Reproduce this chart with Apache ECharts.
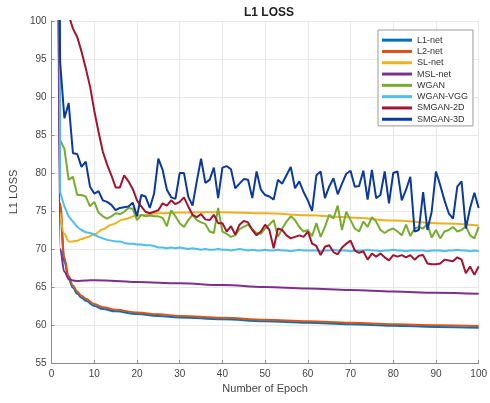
<!DOCTYPE html>
<html>
<head>
<meta charset="utf-8">
<script src="https://cdn.jsdelivr.net/npm/echarts@6/dist/echarts.min.js"></script>
<style>
  html, body { margin: 0; padding: 0; background: #fff; }
  #chart { width: 490px; height: 403px; }
</style>
</head>
<body>
<div id="chart"></div>
<script>
// L1 loss curves per epoch

var chart = echarts.init(document.getElementById('chart'), null, {renderer: 'canvas'});

var names = ['L1-net', 'L2-net', 'SL-net', 'MSL-net', 'WGAN', 'WGAN-VGG', 'SMGAN-2D', 'SMGAN-3D'];
var colors = ['#0072BD', '#D95319', '#EDB120', '#7E2F8E', '#77AC30', '#4DBEEE', '#A2142F', '#0B3A9C'];

// smooth curves, read at a few epochs
var baseEpochs = [1, 2, 3, 4, 5, 6, 7, 8, 10, 12, 15, 20, 25, 30, 40, 50, 60, 70, 80, 90, 100];
var l1Net  = [200, 75, 68.3, 66.0, 64.9, 64.1, 63.6, 63.2, 62.5, 62.1, 61.8, 61.45, 61.2, 61.0, 60.75, 60.5, 60.3, 60.1, 59.9, 59.75, 59.65];
var l2Net  = [200, 76, 68.8, 66.4, 65.2, 64.4, 63.85, 63.45, 62.75, 62.35, 62.0, 61.65, 61.4, 61.2, 60.95, 60.7, 60.5, 60.3, 60.1, 59.97, 59.87];
var mslEpochs = [1, 2, 3, 4, 5, 6, 8, 10, 15, 20, 30, 40, 50, 60, 70, 80, 90, 100];
var mslNet = [200, 70, 67.0, 66.1, 65.85, 65.8, 65.85, 65.9, 65.8, 65.65, 65.5, 65.25, 65.0, 64.8, 64.6, 64.4, 64.25, 64.1];
var slEpochs = [2, 3, 4, 5, 6, 7, 8, 10, 12, 14, 17, 20, 25, 30, 40, 50, 60, 70, 80, 90, 100];
var slNet  = [74.8, 72.0, 71.0, 71.0, 71.1, 71.3, 71.5, 71.9, 72.6, 73.2, 73.9, 74.4, 74.7, 74.8, 74.85, 74.7, 74.45, 74.15, 73.75, 73.4, 73.1];

// noisy curves, one value per epoch 1..100
var wgan = [
  300, 84.3, 83.2, 79.1, 79.5, 77.1, 77.1, 76.9, 75.6, 76.2,
  74.8, 74.3, 74.0, 74.3, 74.7, 74.6, 74.9, 75.4, 75.3, 73.8,
  74.5, 74.3, 74.4, 74.3, 74.3, 74.1, 73.0, 75.1, 74.3, 73.4,
  72.9, 73.8, 74.5, 73.8, 73.5, 73.3, 72.3, 72.1, 75.4, 72.3,
  72.0, 71.6, 71.8, 72.6, 72.9, 73.2, 72.6, 72.1, 72.0, 72.7,
  73.2, 73.8, 71.6, 72.7, 73.6, 74.3, 73.8, 72.9, 72.3, 72.5,
  71.7, 73.4, 71.6, 72.9, 74.5, 74.0, 75.7, 72.5, 74.9, 73.8,
  72.7, 72.3, 73.6, 72.9, 74.2, 73.6, 72.5, 72.1, 72.5, 72.7,
  72.3, 71.8, 73.2, 71.7, 72.7, 72.9, 72.7, 73.3, 71.5, 72.5,
  71.4, 72.3, 72.5, 72.9, 72.3, 72.5, 73.0, 71.8, 71.4, 72.9
];
var wganVgg = [
  300, 77.5, 75.6, 74.3, 73.6, 72.9, 72.5, 72.2, 72.1, 71.9,
  71.6, 71.4, 71.2, 71.1, 71.0, 71.0, 70.8, 70.7, 70.7, 70.6,
  70.6, 70.5, 70.5, 70.4, 70.2, 70.2, 70.1, 70.2, 70.1, 70.2,
  70.1, 70.0, 70.1, 70.0, 69.9, 70.0, 69.9, 69.9, 70.0, 69.9,
  69.9, 69.8, 69.9, 70.0, 69.9, 69.8, 69.9, 69.8, 69.8, 69.9,
  69.8, 69.8, 69.9, 69.8, 69.8, 69.7, 69.8, 69.9, 69.8, 69.8,
  69.8, 69.8, 69.7, 69.8, 69.8, 69.9, 69.8, 69.8, 69.8, 69.7,
  69.8, 69.8, 69.8, 69.9, 69.8, 69.8, 69.7, 69.8, 69.8, 69.9,
  69.8, 69.8, 69.7, 69.8, 69.8, 69.8, 69.8, 69.7, 69.8, 69.8,
  69.8, 69.7, 69.8, 69.8, 69.9, 69.8, 69.8, 69.7, 69.8, 69.7
];
var smgan2d = [
  200, 160, 120, 100.8, 99.0, 97.9, 96.0, 93.8, 91.4, 88.2,
  85.4, 82.8, 81.1, 79.7, 78.1, 78.1, 79.7, 78.9, 77.9, 76.4,
  75.6, 74.9, 74.7, 74.9, 75.1, 76.0, 75.7, 76.4, 75.9, 76.2,
  76.8, 75.6, 74.5, 74.2, 74.6, 73.9, 73.8, 74.5, 73.4, 73.4,
  72.3, 73.0, 71.9, 73.2, 73.7, 73.5, 72.5, 71.8, 72.3, 73.2,
  72.5, 70.1, 72.7, 72.5, 71.8, 71.4, 71.6, 71.8, 71.6, 72.3,
  70.7, 70.4, 69.2, 70.3, 70.5, 69.6, 69.3, 70.2, 70.7, 71.1,
  69.8, 69.5, 69.7, 68.6, 69.4, 69.0, 69.4, 68.9, 68.5, 69.2,
  69.0, 69.2, 68.9, 69.2, 68.6, 69.1, 69.2, 68.1, 68.0, 68.0,
  68.1, 68.6, 68.5, 68.4, 68.9, 68.6, 66.8, 67.7, 66.6, 67.7
];
var smgan3d = [
  160, 94.6, 87.2, 89.2, 82.6, 82.5, 80.8, 81.5, 78.2, 77.3,
  77.6, 76.4, 76.2, 75.8, 75.1, 75.4, 75.5, 75.6, 76.1, 74.3,
  77.1, 76.9, 75.4, 77.3, 81.9, 80.4, 77.8, 76.8, 76.6, 80.0,
  80.0, 76.9, 75.7, 78.9, 81.9, 78.7, 79.1, 80.7, 76.7, 80.7,
  80.9, 80.5, 78.0, 78.6, 79.2, 79.1, 76.7, 80.2, 77.8, 77.1,
  76.9, 76.5, 79.1, 78.6, 79.7, 80.8, 78.0, 78.9, 77.5, 76.4,
  75.0, 79.7, 80.2, 76.7, 78.2, 79.3, 77.2, 78.6, 79.9, 80.3,
  78.2, 78.3, 80.3, 76.5, 80.4, 76.7, 77.1, 80.2, 76.0, 80.0,
  80.2, 76.4, 77.8, 79.5, 72.3, 72.5, 77.5, 72.5, 74.9, 80.2,
  78.4, 76.4, 74.7, 74.0, 78.2, 78.9, 72.7, 75.4, 77.4, 75.4
];

function pairs(xs, ys) {
    return ys.map(function (v, i) { return [xs[i], v]; });
}
function perEpoch(ys) {
    return ys.map(function (v, i) { return [i + 1, v]; });
}

var seriesData = [
    pairs(baseEpochs, l1Net),
    pairs(baseEpochs, l2Net),
    pairs(slEpochs, slNet),
    pairs(mslEpochs, mslNet),
    perEpoch(wgan),
    perEpoch(wganVgg),
    perEpoch(smgan2d),
    perEpoch(smgan3d)
];
var smoothFlags = [0.4, 0.4, 0.4, 0.4, false, false, false, false];

var axisGray = '#8a8a8a';
var labelGray = '#444';

option = {
    animation: false,
    backgroundColor: '#fff',
    color: colors,
    title: {
        text: 'L1 LOSS',
        left: 264,
        top: 2,
        textAlign: 'center',
        textStyle: {fontFamily: 'Liberation Sans', fontSize: 12, fontWeight: 'bold', color: '#222'}
    },
    legend: {
        orient: 'vertical',
        left: 378,
        top: 30,
        padding: [4.5, 5, 1, 4],
        itemWidth: 30,
        itemHeight: 3,
        itemGap: 0,
        icon: 'rect',
        backgroundColor: '#fff',
        borderColor: '#9a9a9a',
        borderWidth: 1,
        borderRadius: 0,
        textStyle: {fontFamily: 'Liberation Sans', fontSize: 9, color: '#333', lineHeight: 11.3}
    },
    grid: {left: 48, right: 10, top: 21, bottom: 40, containLabel: false},
    xAxis: {
        type: 'value',
        min: 0,
        max: 100,
        interval: 10,
        name: 'Number of Epoch',
        nameLocation: 'middle',
        nameGap: 20,
        nameTextStyle: {fontFamily: 'Liberation Sans', fontSize: 11, color: labelGray},
        axisLine: {lineStyle: {color: axisGray, width: 1}},
        axisTick: {inside: true, length: 3, lineStyle: {color: axisGray}},
        axisLabel: {fontFamily: 'Liberation Sans', fontSize: 10, color: labelGray, margin: 6},
        splitLine: {show: true, lineStyle: {color: '#e8e8e8', width: 1}}
    },
    yAxis: {
        type: 'value',
        min: 55,
        max: 100,
        interval: 5,
        name: 'L1 LOSS',
        nameLocation: 'middle',
        nameGap: 30,
        nameTextStyle: {fontFamily: 'Liberation Sans', fontSize: 11, color: labelGray},
        axisLine: {show: true, lineStyle: {color: axisGray, width: 1}},
        axisTick: {show: true, inside: true, length: 3, lineStyle: {color: axisGray}},
        axisLabel: {fontFamily: 'Liberation Sans', fontSize: 10, color: labelGray, margin: 5},
        splitLine: {show: true, lineStyle: {color: '#e8e8e8', width: 1}}
    },
    series: names.map(function (n, i) {
        return {
            name: n,
            type: 'line',
            data: seriesData[i],
            smooth: smoothFlags[i],
            smoothMonotone: 'x',
            showSymbol: false,
            symbol: 'none',
            clip: true,
            lineStyle: {width: 2, color: colors[i]},
            itemStyle: {color: colors[i]}
        };
    })
};
chart.setOption(option);
</script>
</body>
</html>
